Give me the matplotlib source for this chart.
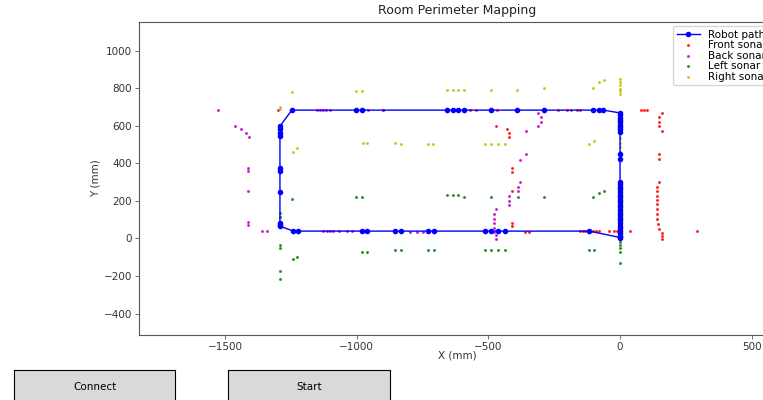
import matplotlib
matplotlib.use("Agg")
import matplotlib.pyplot as plt
from matplotlib.widgets import Button

# robot path (mm)
path_x = [0, 0, 0, 0, 0, 0, 0, 0, 0, 0, 0, 0, 0, 0, 0, 0, 0, 0, 0, 0, 0, 0, 0,
          0, 0, 0, 0, 0, 0, 0, 0, 0, 0, 0,
          -63, -79, -101, -287, -390, -491, -591, -614, -633, -656, -981, -1003, -1246,
          -1291, -1291, -1291, -1291, -1291, -1291, -1291, -1291, -1291, -1291,
          -1240, -1224, -978, -960, -854, -833, -728, -706, -512, -491, -462, -437, -117,
          0]
path_y = [0, 14, 27, 41, 55, 68, 82, 96, 110, 123, 137, 151, 165, 178, 192, 206, 219, 233, 247, 261, 274, 288, 301,
          422, 447, 567, 580, 593, 606, 618, 630, 643, 655, 668,
          683, 683, 683, 683, 683, 683, 683, 683, 683, 683, 683, 683, 683,
          597, 580, 562, 545, 376, 358, 248, 83, 71, 65,
          39, 39, 39, 39, 39, 39, 39, 39, 39, 39, 39, 39, 39,
          5]

front_x = [-569, -547, -468, -234, -203, -187, -165, -152,
           -471, -430, -420, -420, -411, -411, -409, -409, -409,
           80, 91, 101, 161, 149, 149, 149, 158,
           149, 149,
           -361, -344, -152, -142, -133, -118, -101, -91, -79, -41, -23, -13, 38,
           149, 139, 139, 139, 139, 139, 139, 139, 139, 145, 149, 158, 161, 161, 291]
front_y = [682, 682, 682, 682, 682, 682, 682, 682,
           597, 580, 562, 540, 376, 354, 252, 83, 67,
           682, 682, 682, 665, 644, 620, 597, 571,
           447, 422,
           35, 35, 39, 39, 39, 39, 39, 39, 39, 39, 39, 39, 39,
           301, 275, 252, 227, 204, 181, 154, 128, 103, 76, 49, 30, 14, -4, 39]

back_x = [-1527, -1462, -1440, -1421, -1410, -1411, -1411, -1300,
          -1151, -1139, -1126, -1116, -1101, -958, -899, -901,
          -310, -301, -301, -310, -358, -358, -380,
          -1411, -1411, -1411, -1360, -1341,
          -1126, -1114, -1101, -1089, -1066, -1038, -1019, -797, -772, -747,
          -471, -478, -478, -478, -478, -478, -471, -471,
          -421, -421, -421, -380, -389, -389]
back_y = [682, 599, 580, 562, 540, 376, 358, 682,
          682, 682, 682, 682, 682, 682, 682, 682,
          665, 644, 620, 597, 571, 447, 420,
          250, 88, 71, 39, 39,
          39, 39, 39, 39, 39, 39, 39, 35, 35, 35,
          154, 128, 103, 80, 56, 35, 18, -4,
          225, 200, 177, 301, 275, 252]

left_x = [-1246, -1291, -1291, -1291, -1291, -1243, -1225, -1291, -1291,
          -1003, -981, -978, -960, -854, -833, -728, -706,
          -656, -633, -614, -591, -491, -389, -289, -101, -79, -61,
          -512, -491, -465, -437, -118, -99,
          0, 0, 0, 0, 0]
left_y = [211, 134, 115, -36, -52, -112, -101, -174, -217,
          221, 221, -71, -71, -62, -62, -62, -62,
          232, 232, 232, 221, 221, 221, 221, 221, 243, 253,
          -62, -62, -62, -62, -62, -62,
          -18, -36, -53, -71, -130]

right_x = [-1291, -1291, -1246, -1003, -981, -977, -960, -1243, -1225,
           -854, -832, -728, -709, -656, -633, -614, -591, -491, -390, -287,
           -101, -79, -61, 0, 0, 0, 0, 0, 0,
           -512, -491, -465, -437, -118, -99,
           0, 0, 0, 0, 0]
right_y = [700, 690, 780, 783, 783, 509, 509, 461, 479,
           509, 500, 500, 500, 789, 792, 792, 792, 792, 792, 803,
           803, 833, 842, 851, 833, 815, 798, 785, 771,
           502, 502, 502, 502, 500, 519,
           560, 535, 510, 485, 460]

fig = plt.figure(figsize=(7.63, 4), dpi=100)
ax = fig.add_axes([139 / 763, 65 / 400, 637 / 763, 313 / 400])

ax.plot(path_x, path_y, "b-", marker="o", markersize=3, linewidth=1, label="Robot path")
ax.scatter(front_x, front_y, s=1.5, c="r", alpha=0.7, label="Front sonar")
ax.scatter(back_x, back_y, s=1.5, c="m", alpha=0.7, label="Back sonar")
ax.scatter(left_x, left_y, s=1.5, c="g", alpha=0.7, label="Left sonar")
ax.scatter(right_x, right_y, s=1.5, c="y", alpha=0.7, label="Right sonar")

ax.set_xlim(-1826, 592)
ax.set_ylim(-514, 1152)
ax.set_xticks([-1500, -1000, -500, 0, 500])
ax.set_yticks([-400, -200, 0, 200, 400, 600, 800, 1000])
ax.tick_params(labelsize=7.5, length=3, width=0.6, pad=2,
               color="#555555", labelcolor="#333333")
for sp in ax.spines.values():
    sp.set_color("#555555")
    sp.set_linewidth(0.8)
ax.set_title("Room Perimeter Mapping", fontsize=9, color="#222222")
ax.set_xlabel("X (mm)", fontsize=7.5, labelpad=-1, color="#333333")
ax.set_ylabel("Y (mm)", fontsize=7.5, labelpad=2, color="#333333")
ax.legend(loc="upper left", bbox_to_anchor=(673 / 763, 1 - 26 / 400),
          bbox_transform=fig.transFigure, borderaxespad=0,
          fontsize=7.5, labelspacing=0.05, handlelength=2.2, handletextpad=0.8,
          borderpad=0.35)

bax1 = fig.add_axes([14 / 763, -4 / 400, 161 / 763, 34 / 400])
b1 = Button(bax1, "Connect")
b1.label.set_fontsize(7.5)
bax2 = fig.add_axes([228 / 763, -4 / 400, 162 / 763, 34 / 400])
b2 = Button(bax2, "Start")
b2.label.set_fontsize(7.5)

fig.savefig("out.png", dpi=100)
